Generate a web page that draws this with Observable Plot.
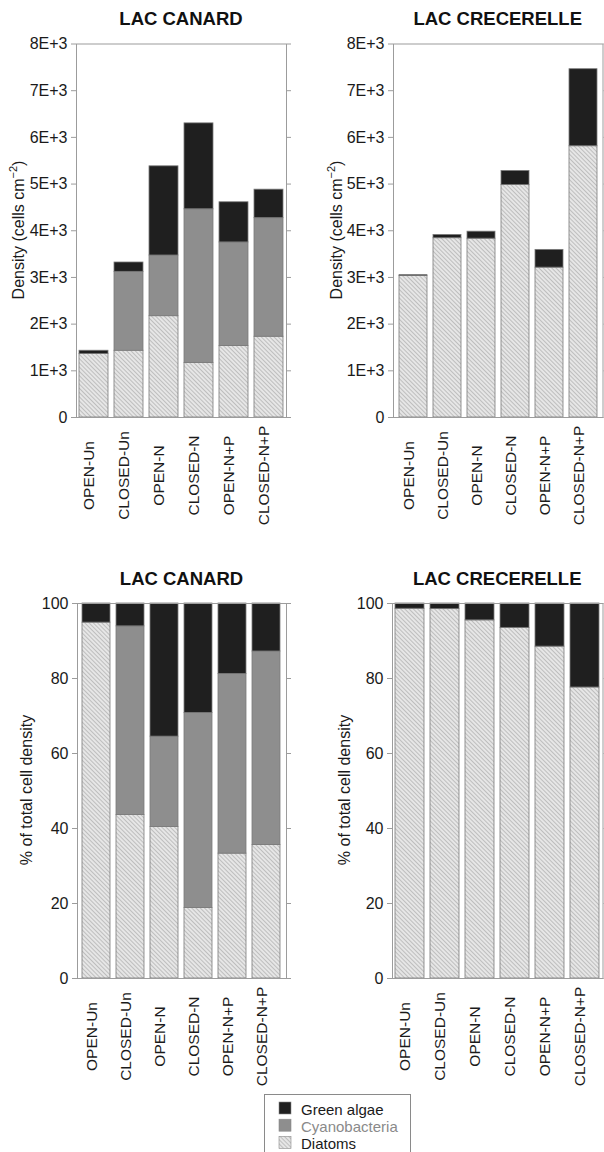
<!DOCTYPE html>
<html>
<head>
<meta charset="utf-8">
<script src="https://cdn.jsdelivr.net/npm/d3@7"></script>
<script src="https://cdn.jsdelivr.net/npm/@observablehq/plot@0.6"></script>
<style>
  html, body { margin: 0; padding: 0; background: #fff; }
  #root { position: relative; width: 604px; height: 1152px; overflow: hidden; font-family: "Liberation Sans", Arial, sans-serif; }
  .panel { position: absolute; }
  #overlay { position: absolute; left: 0; top: 0; pointer-events: none; }
</style>
</head>
<body>
<div id="root"></div>
<script>
// ---------- data ----------
const treatments = ["OPEN-Un", "CLOSED-Un", "OPEN-N", "CLOSED-N", "OPEN-N+P", "CLOSED-N+P"];
const groups = ["Diatoms", "Cyanobacteria", "Green algae"];

// cell density (cells cm-2)
const canardDiatoms = [1360, 1430, 2170, 1170, 1530, 1730];
const canardCyano   = [0, 1690, 1300, 3290, 2220, 2540];
const canardGreen   = [70, 200, 1910, 1840, 860, 610];
const crecDiatoms   = [3030, 3840, 3830, 4980, 3210, 5810];
const crecCyano     = [0, 0, 0, 0, 0, 0];
const crecGreen     = [20, 70, 150, 300, 380, 1650];

// % of total cell density
const canardPctDiatoms = [94.9, 43.6, 40.4, 18.8, 33.3, 35.6];
const canardPctCyano   = [0, 50.3, 24.1, 52.0, 47.9, 51.6];
const canardPctGreen   = [5.1, 6.1, 35.5, 29.2, 18.8, 12.8];
const crecPctDiatoms   = [98.6, 98.5, 95.5, 93.5, 88.5, 77.6];
const crecPctCyano     = [0, 0, 0, 0, 0, 0];
const crecPctGreen     = [1.4, 1.5, 4.5, 6.5, 11.5, 22.4];

const densityTicks = [0, 1000, 2000, 3000, 4000, 5000, 6000, 7000, 8000];
const densityTickLabels = ["0", "1E+3", "2E+3", "3E+3", "4E+3", "5E+3", "6E+3", "7E+3", "8E+3"];
const pctTicks = [0, 20, 40, 60, 80, 100];

const titles = ["LAC CANARD", "LAC CRECERELLE"];

// ---------- helpers ----------
function table(d, c, g) {
  const rows = [];
  treatments.forEach((t, i) => {
    [[groups[0], d[i]], [groups[1], c[i]], [groups[2], g[i]]].forEach(([s, v]) => {
      if (v > 0) rows.push({treatment: t, group: s, value: v});
    });
  });
  return rows;
}

function hatchInto(defs, id) {
  const p = defs.append("pattern").attr("id", id)
    .attr("patternUnits", "userSpaceOnUse").attr("width", 3).attr("height", 3)
    .attr("patternTransform", "rotate(-45)");
  p.append("rect").attr("width", 3).attr("height", 3).attr("fill", "#e6e6e6");
  p.append("line").attr("x1", 0.5).attr("y1", 0).attr("x2", 0.5).attr("y2", 3)
    .attr("stroke", "#bababa").attr("stroke-width", 0.9);
}

let hatchCount = 0;
function panel({rows, left, top, width, height, marginLeft, marginRight, marginTop, marginBottom, yDomain, ticks, tickLabels}) {
  const id = "hatch" + (hatchCount++);
  const svg = Plot.plot({
    width, height, marginLeft, marginRight, marginTop, marginBottom,
    style: {fontFamily: "'Liberation Sans', Arial, sans-serif", fontSize: "16px", background: "transparent", overflow: "visible"},
    x: {domain: treatments, paddingInner: 0.17, paddingOuter: 0.085, axis: null},
    y: {domain: yDomain, axis: null},
    color: {type: "ordinal", domain: groups, range: [`url(#${id})`, "#8e8e8e", "#1f1f1f"]},
    marks: [
      Plot.barY(rows, Plot.stackY({x: "treatment", y: "value", fill: "group", stroke: "#7a7a7a", strokeWidth: 0.8})),
      Plot.frame({stroke: "#9c9c9c", strokeWidth: 1}),
      Plot.axisY({anchor: "left", ticks, tickFormat: (d) => tickLabels ? tickLabels[ticks.indexOf(d)] : String(d),
        tickSize: 5, tickPadding: 4, stroke: "#9c9c9c", color: "#1a1a1a", label: null}),
      Plot.axisY({anchor: "right", ticks, tickFormat: () => "", tickSize: 4, stroke: "#9c9c9c", label: null}),
      Plot.text(treatments, {x: (d) => d, frameAnchor: "bottom", dy: 58, rotate: -90,
        text: (d) => d, fontSize: 15.5, fill: "#1a1a1a"})
    ]
  });
  hatchInto(d3.select(svg).insert("defs", ":first-child"), id);
  const div = document.createElement("div");
  div.className = "panel";
  div.style.left = left + "px";
  div.style.top = top + "px";
  div.appendChild(svg);
  document.getElementById("root").appendChild(div);
}

// ---------- panels ----------
panel({rows: table(canardDiatoms, canardCyano, canardGreen), left: 0, top: 0, width: 300, height: 530,
  marginLeft: 76, marginRight: 14, marginTop: 43.5, marginBottom: 113, yDomain: [0, 8000],
  ticks: densityTicks, tickLabels: densityTickLabels});
panel({rows: table(crecDiatoms, crecCyano, crecGreen), left: 300, top: 0, width: 304, height: 530,
  marginLeft: 93, marginRight: 1.5, marginTop: 43.5, marginBottom: 113, yDomain: [0, 8000],
  ticks: densityTicks, tickLabels: densityTickLabels});
panel({rows: table(canardPctDiatoms, canardPctCyano, canardPctGreen), left: 0, top: 560, width: 300, height: 530,
  marginLeft: 77, marginRight: 14, marginTop: 43, marginBottom: 112, yDomain: [0, 100],
  ticks: pctTicks, tickLabels: null});
panel({rows: table(crecPctDiatoms, crecPctCyano, crecPctGreen), left: 300, top: 560, width: 304, height: 530,
  marginLeft: 92, marginRight: 1.5, marginTop: 43, marginBottom: 112, yDomain: [0, 100],
  ticks: pctTicks, tickLabels: null});

// ---------- titles, axis labels, legend ----------
const ov = d3.select("#root").append("svg").attr("id", "overlay")
  .attr("width", 604).attr("height", 1152)
  .style("font-family", "'Liberation Sans', Arial, sans-serif");

const titlePos = [[181, 25], [497.7, 25], [181.5, 585], [497.2, 585]];
titlePos.forEach(([x, y], i) => {
  ov.append("text").attr("x", x).attr("y", y).attr("text-anchor", "middle")
    .attr("font-size", 18.5).attr("font-weight", "bold").attr("fill", "#111")
    .text(titles[i % 2]);
});

[[24, 230], [342, 230]].forEach(([x, y]) => {
  const t = ov.append("text").attr("transform", `translate(${x},${y}) rotate(-90)`)
    .attr("text-anchor", "middle").attr("font-size", 16).attr("fill", "#1a1a1a");
  t.append("tspan").text("Density (cells cm");
  t.append("tspan").attr("dy", -7).attr("font-size", 11).text("\u22122");
  t.append("tspan").attr("dy", 7).text(")");
});
[[32, 790], [350, 790]].forEach(([x, y]) => {
  ov.append("text").attr("transform", `translate(${x},${y}) rotate(-90)`)
    .attr("text-anchor", "middle").attr("font-size", 16).attr("fill", "#1a1a1a")
    .text("% of total cell density");
});

// legend
hatchInto(ov.append("defs"), "hatchLegend");
ov.append("rect").attr("x", 264.5).attr("y", 1094.5).attr("width", 146).attr("height", 70)
  .attr("fill", "#fff").attr("stroke", "#8a8a8a");
const legendItems = [
  {label: groups[2], fill: "#1f1f1f", text: "#1a1a1a"},
  {label: groups[1], fill: "#8e8e8e", text: "#8a8a8a"},
  {label: groups[0], fill: "url(#hatchLegend)", text: "#1a1a1a"}
];
legendItems.forEach((d, i) => {
  const y = 1102 + i * 17.2;
  ov.append("rect").attr("x", 279).attr("y", y).attr("width", 12).attr("height", 12)
    .attr("fill", d.fill).attr("stroke", "#8a8a8a").attr("stroke-width", 0.6);
  ov.append("text").attr("x", 301).attr("y", y + 12.5).attr("font-size", 15)
    .attr("fill", d.text).text(d.label);
});
</script>
</body>
</html>
